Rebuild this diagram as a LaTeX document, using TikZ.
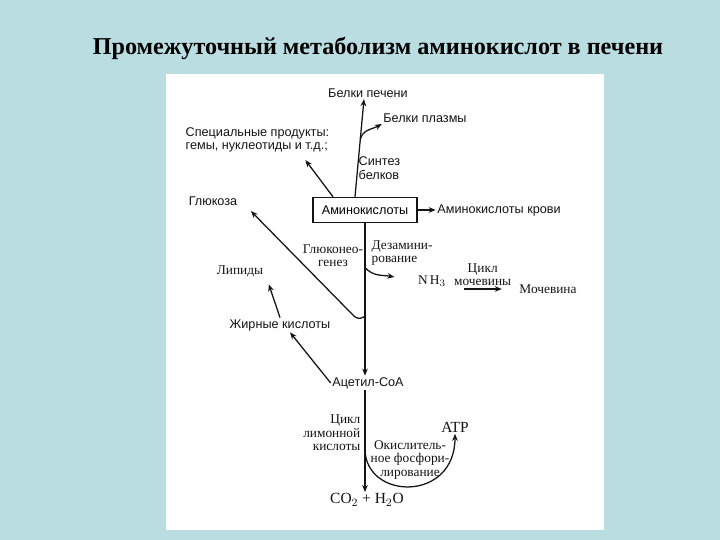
\documentclass[tikz,border=0pt]{standalone}
\usepackage{fontspec}
\setmainfont{Liberation Serif}
\setsansfont{Liberation Sans}
\usetikzlibrary{arrows.meta,positioning}
\definecolor{bgt}{HTML}{B9DDE1}
\definecolor{ink}{HTML}{141414}
\tikzset{
  lbl/.style={font={\sffamily\fontsize{9}{9.5}\selectfont},text=ink,inner sep=1pt,align=center},
  slbl/.style={lbl,font={\rmfamily\fontsize{9.5}{9.5}\selectfont}},
  box/.style={draw=ink,line width=1pt,minimum width=26mm,minimum height=6.25mm,inner sep=2pt,font={\sffamily\fontsize{9}{9.5}\selectfont}},
  ttl/.style={font={\rmfamily\bfseries\fontsize{17.2}{20}\selectfont},text=black},
  ar/.style={-{Stealth[length=5pt,width=4pt]},line width=0.9pt,draw=ink},
}
\begin{document}
\begin{tikzpicture}[x=0.25mm,y=0.25mm]
  \fill[bgt] (0,0) rectangle (720,540);
  \useasboundingbox (0,0) rectangle (720,540);
  \fill[white] (166,10) rectangle (604,466);
  \node[ttl] (t) at (378,492) {Промежуточный метаболизм аминокислот в печени};
  \node[box] (aa) at (365,330) {Аминокислоты};
  \node[lbl] (lp) at (368,447) {Белки печени};
  \node[lbl] (pp) at (425,422) {Белки плазмы};
  \node[lbl, anchor=west, align=left] (sp) at (184,400) {Специальные продукты:\\гемы, нуклеотиды и т.д.;};
  \node[lbl, anchor=west, align=left] (sb) at (357,372) {Синтез\\белков};
  \node[lbl] (gl) at (213,339) {Глюкоза};
  \node[lbl, right=4.5mm of aa] (ab) {Аминокислоты крови};
  \node[slbl] (gn) at (333,284) {Глюконео-\\генез};
  \node[slbl, anchor=west, align=left] (dz) at (370,287) {Дезамини-\\рование};
  \node[slbl] (nh) at (432,259) {N\,H$_3$};
  \node[slbl] (ur) at (548,251) {Мочевина};
  \node[slbl] (li) at (240,269) {Липиды};
  \node[lbl] (fa) at (280,215) {Жирные кислоты};
  \node[lbl] (ac) at (368,157) {Ацетил-СоА};
  \node[slbl, font={\rmfamily\fontsize{11}{12}\selectfont}] (co) at (367,40) {CO$_2$ + H$_2$O};
  \node[slbl, anchor=east, align=right] (tc) at (362,107) {Цикл\\лимонной\\кислоты};
  \node[slbl] (ox) at (410,80) {Окислитель-\\ное фосфори-\\лирование};
  \node[slbl, font={\rmfamily\fontsize{11}{12}\selectfont}] (at) at (455,113) {ATP};

  \draw[ar] ([xshift=-2.5mm]aa.north) -- coordinate[pos=0.59] (br) ([xshift=-1mm]lp.south);
  \draw[ar] (br) to[out=75,in=210] ([yshift=-1.5mm]pp.west);
  \draw[ar] ([xshift=-8mm]aa.north) -- ([xshift=12mm,yshift=-1.5mm]sp.south);
  \draw[ar] (aa.east) -- (ab.west);
  \draw[ar] (aa.south) -- coordinate[pos=0.29] (dj) coordinate[pos=0.61] (gj) (aa.south |- ac.north);
  \draw[ar, rounded corners=4pt] (gj) -- ++(-7,-4) -- ([xshift=3mm,yshift=-1mm]gl.south east);
  \draw[ar] (dj) to[out=-50,in=170] ([xshift=-5.5mm,yshift=1mm]nh.west);
  \draw[ar, shorten <=4mm, shorten >=4mm] (nh.east |- ur.west) -- node[slbl, above=1pt] (uc) {Цикл\\мочевины} (ur.west);
  \draw[ar] (fa.north) -- ([xshift=1mm,yshift=-1.5mm]li.south east);
  \draw[ar] (ac.west) -- ([xshift=2.5mm]fa.south);
  \draw[ar] (ac.south -| aa.south) -- coordinate[pos=0.59] (op) (co.north -| aa.south);
  \draw[ar] (op) .. controls +(2,-50) and +(0,-68) .. (at.south);
\end{tikzpicture}
\end{document}
